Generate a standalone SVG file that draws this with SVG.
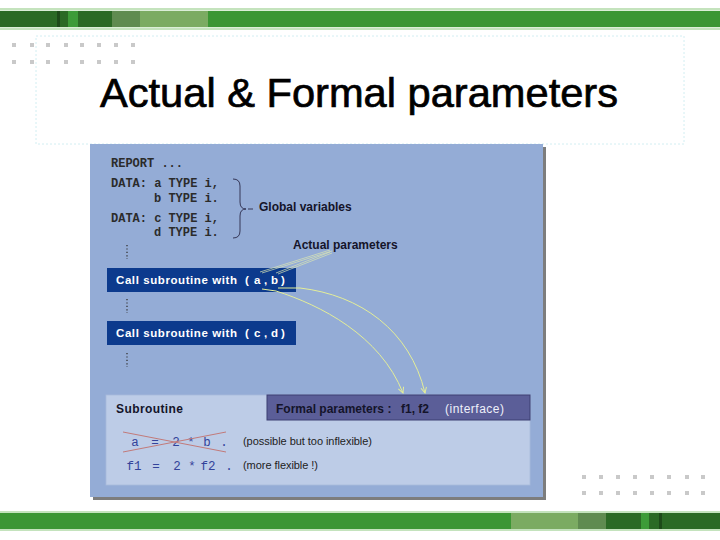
<svg xmlns="http://www.w3.org/2000/svg" width="720" height="540" viewBox="0 0 720 540">
<style>
.dot{fill:#c9c9c9}
.code{font-family:"Liberation Mono","DejaVu Sans Mono",monospace;font-size:12px;font-weight:bold;fill:#2b2b2b}
.sub{font-family:"Liberation Mono","DejaVu Sans Mono",monospace;font-size:12.5px;fill:#33439a}
.lbl{font-family:"Liberation Sans",Arial,sans-serif;font-size:12px;font-weight:bold;fill:#14142a}
.note{font-family:"Liberation Sans",Arial,sans-serif;font-size:11px;fill:#222}
.btn{fill:#0c3a8d}
.btntxt{font-family:"Liberation Sans",Arial,sans-serif;font-size:11.5px;font-weight:bold;fill:#fff}
.vd{stroke:#333;stroke-width:1.3;stroke-dasharray:1.2 2.2}
.arr{fill:none;stroke:#e4ee98;stroke-width:1}
.lead{stroke:#dbe6b4;stroke-width:0.7}
</style>
<defs>
<marker id="ah" viewBox="0 0 10 10" refX="9" refY="5" markerWidth="7" markerHeight="7" orient="auto" markerUnits="userSpaceOnUse">
<path d="M1,1 L9,5 L1,9" fill="none" stroke="#e4ee98" stroke-width="1.4"/>
</marker>
</defs>
<rect width="720" height="540" fill="#ffffff"/>
<!-- top bar -->
<g id="topbar">
<rect x="0" y="8" width="720" height="22" fill="#c4e3bd"/>
<rect x="0" y="10" width="720" height="18" fill="#ffffff" opacity="0.4"/>
<rect x="0" y="11" width="720" height="16" fill="#3b9634"/>
<rect x="0" y="11" width="57" height="16" fill="#2b6a25"/>
<rect x="57" y="11" width="3" height="16" fill="#1d4a19"/>
<rect x="60" y="11" width="8" height="16" fill="#2b6a25"/>
<rect x="68" y="11" width="10" height="16" fill="#3d9b38"/>
<rect x="78" y="11" width="34" height="16" fill="#2b6a25"/>
<rect x="112" y="11" width="28" height="16" fill="#5f8b50"/>
<rect x="140" y="11" width="68" height="16" fill="#7bab62"/>
</g>
<!-- bottom bar -->
<g id="bottombar">
<rect x="0" y="511" width="720" height="20" fill="#c4e3bd"/>
<rect x="0" y="513" width="720" height="16" fill="#3b9634"/>
<rect x="511" y="513" width="67" height="16" fill="#7bab62"/>
<rect x="578" y="513" width="28" height="16" fill="#5f8b50"/>
<rect x="606" y="513" width="35" height="16" fill="#2b6a25"/>
<rect x="641" y="513" width="8" height="16" fill="#3d9b38"/>
<rect x="649" y="513" width="10" height="16" fill="#2b6a25"/>
<rect x="659" y="513" width="3" height="16" fill="#1d4a19"/>
<rect x="662" y="513" width="58" height="16" fill="#2b6a25"/>
</g>
<!-- decorative dots -->
<g id="dots-tl">
<rect class="dot" x="12" y="43" width="4" height="4"/><rect class="dot" x="30" y="43" width="4" height="4"/><rect class="dot" x="46" y="43" width="4" height="4"/><rect class="dot" x="64" y="43" width="4" height="4"/><rect class="dot" x="80" y="43" width="4" height="4"/><rect class="dot" x="97" y="43" width="4" height="4"/><rect class="dot" x="114" y="43" width="4" height="4"/><rect class="dot" x="131" y="43" width="4" height="4"/>
<rect class="dot" x="12" y="60" width="4" height="4"/><rect class="dot" x="30" y="60" width="4" height="4"/><rect class="dot" x="46" y="60" width="4" height="4"/><rect class="dot" x="64" y="60" width="4" height="4"/><rect class="dot" x="80" y="60" width="4" height="4"/><rect class="dot" x="97" y="60" width="4" height="4"/><rect class="dot" x="114" y="60" width="4" height="4"/><rect class="dot" x="131" y="60" width="4" height="4"/>
</g>
<g id="dots-br">
<rect class="dot" x="582" y="475" width="4" height="4"/><rect class="dot" x="599" y="475" width="4" height="4"/><rect class="dot" x="616" y="475" width="4" height="4"/><rect class="dot" x="633" y="475" width="4" height="4"/><rect class="dot" x="650" y="475" width="4" height="4"/><rect class="dot" x="667" y="475" width="4" height="4"/><rect class="dot" x="685" y="475" width="4" height="4"/><rect class="dot" x="701" y="475" width="4" height="4"/>
<rect class="dot" x="582" y="491" width="4" height="4"/><rect class="dot" x="599" y="491" width="4" height="4"/><rect class="dot" x="616" y="491" width="4" height="4"/><rect class="dot" x="633" y="491" width="4" height="4"/><rect class="dot" x="650" y="491" width="4" height="4"/><rect class="dot" x="667" y="491" width="4" height="4"/><rect class="dot" x="685" y="491" width="4" height="4"/><rect class="dot" x="701" y="491" width="4" height="4"/>
</g>
<!-- title -->
<g id="title">
<rect x="36" y="36" width="648" height="108" fill="none" stroke="#d2eef2" stroke-width="1" stroke-dasharray="2 2"/>
<text x="100" y="107" font-family="'Liberation Sans',Arial,sans-serif" font-size="41.5" fill="#000" stroke="#000" stroke-width="0.7" textLength="518" lengthAdjust="spacingAndGlyphs">Actual &amp; Formal parameters</text>
</g>
<!-- panel -->
<g id="panel">
<rect x="93" y="147" width="453" height="353" fill="#7d7d7d"/>
<rect x="90" y="144" width="453" height="353" fill="#94acd6"/>
</g>
<g id="code">
<text class="code" x="111" y="167">REPORT ...</text>
<text class="code" x="111" y="187">DATA: a TYPE i,</text>
<text class="code" x="154" y="202">b TYPE i.</text>
<text class="code" x="111" y="222">DATA: c TYPE i,</text>
<text class="code" x="154" y="236">d TYPE i.</text>
<line class="vd" x1="127" y1="245" x2="127" y2="259"/>
<line class="vd" x1="127" y1="299" x2="127" y2="313"/>
<line class="vd" x1="127" y1="353" x2="127" y2="367"/>
</g>
<g id="global-label">
<text class="lbl" x="259" y="211">Global variables</text>
</g>
<g id="actual-label">
<text class="lbl" x="293" y="249">Actual parameters</text>
</g>
<g id="call1">
<rect class="btn" x="107" y="268" width="189" height="24"/>
<text class="btntxt" x="116" y="284" textLength="121" lengthAdjust="spacing">Call subroutine with</text>
<text class="btntxt" x="245" y="284">(</text><text class="btntxt" x="254" y="284">a</text><text class="btntxt" x="264" y="284">,</text><text class="btntxt" x="271" y="284">b</text><text class="btntxt" x="281" y="284">)</text>
</g>
<g id="call2">
<rect class="btn" x="107" y="321" width="189" height="24"/>
<text class="btntxt" x="116" y="337" textLength="121" lengthAdjust="spacing">Call subroutine with</text>
<text class="btntxt" x="245" y="337">(</text><text class="btntxt" x="254" y="337">c</text><text class="btntxt" x="264" y="337">,</text><text class="btntxt" x="271" y="337">d</text><text class="btntxt" x="281" y="337">)</text>
</g>
<g id="subroutine">
<rect x="106" y="395" width="424" height="90" fill="#bdcce7" stroke="#a9bbdc" stroke-width="0.8"/>
<text class="lbl" x="116" y="413" textLength="67" lengthAdjust="spacing" fill="#1c1c2c">Subroutine</text>
<text class="sub" text-anchor="middle"><tspan x="135" y="446">a</tspan><tspan x="155" y="446">=</tspan><tspan x="176" y="446">2</tspan><tspan x="191" y="446">*</tspan><tspan x="207" y="446">b</tspan><tspan x="224" y="446">.</tspan></text>
<line x1="123" y1="432" x2="226" y2="452" stroke="#c27a7a" stroke-width="1"/>
<line x1="123" y1="452" x2="226" y2="432" stroke="#c27a7a" stroke-width="1"/>
<text class="sub" text-anchor="middle"><tspan x="134" y="470">f1</tspan><tspan x="156" y="470">=</tspan><tspan x="177" y="470">2</tspan><tspan x="192" y="470">*</tspan><tspan x="208" y="470">f2</tspan><tspan x="229" y="470">.</tspan></text>
<text class="note" x="243" y="445" textLength="129" lengthAdjust="spacing">(possible but too inflexible)</text>
<text class="note" x="243" y="469" textLength="75" lengthAdjust="spacing">(more flexible !)</text>
</g>
<g id="formal">
<rect x="267" y="395" width="263" height="25" fill="#5b5e98" stroke="#3c3f72" stroke-width="1"/>
<text class="lbl" x="276" y="413" fill="#eef0fa">Formal parameters :</text>
<text class="lbl" x="401" y="413" fill="#eef0fa">f1, f2</text>
<text x="445" y="413" font-family="'Liberation Sans',Arial,sans-serif" font-size="12" fill="#eef0fa" textLength="59" lengthAdjust="spacing">(interface)</text>
</g>
<g id="connectors">
<path d="M233,179 Q240,179 240,186 L240,202 Q240,209 246,209 Q240,209 240,216 L240,231 Q240,238 233,238" fill="none" stroke="#2a2a4a" stroke-width="0.9"/>
<line x1="248" y1="209" x2="253" y2="209" stroke="#2a2a4a" stroke-width="0.9"/>
<line class="lead" x1="330" y1="250" x2="260" y2="272"/>
<line class="lead" x1="332" y1="251" x2="262" y2="273"/>
<line class="lead" x1="330" y1="252" x2="276" y2="273"/>
<line class="lead" x1="332" y1="253" x2="278" y2="274"/>
<path class="arr" d="M262,289 L276,291 C320,305 380,335 403,393" marker-end="url(#ah)"/>
<path class="arr" d="M278,288 L300,288 C360,295 410,330 425,393" marker-end="url(#ah)"/>
</g>
</svg>
